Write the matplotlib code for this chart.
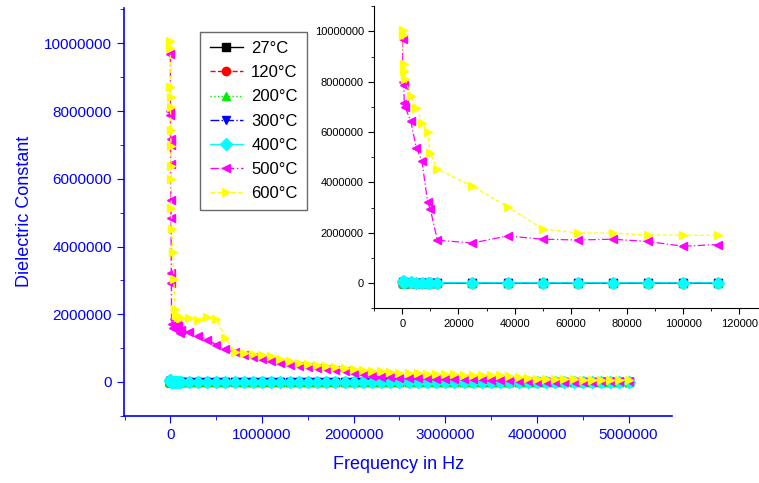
import numpy as np
import matplotlib
matplotlib.use('Agg')
import matplotlib.pyplot as plt
from matplotlib.ticker import MultipleLocator

plt.rcParams['font.family'] = ['Liberation Sans', 'DejaVu Sans']

# frequencies of the sweep (Hz)
freq_low = [100, 200, 500, 700, 1000, 3000, 5000, 7000, 9000, 10000, 12500,
            25000, 37500, 50000, 62500, 75000, 87500, 100000, 112500]
freq_high = np.arange(200000, 5000001, 100000)

labels = ['27°C', '120°C', '200°C', '300°C', '400°C', '500°C', '600°C']

# low temperatures, in thousands
eps_27_low = [1.9, 1.6, 1.4, 1.3, 1.2, 1.1, 1.0, 1.0, 0.9, 0.9, 0.9, 0.8, 0.8, 0.8, 0.8, 0.7, 0.7, 0.7, 0.7]
eps_27_high = [0.7, 0.7, 0.7, 0.7, 0.7, 0.7, 0.6, 0.6, 0.6, 0.6,
               0.6, 0.6, 0.6, 0.6, 0.6, 0.6, 0.6, 0.6, 0.6, 0.6,
               0.6, 0.6, 0.6, 0.6, 0.6, 0.6, 0.5, 0.5, 0.5, 0.5,
               0.5, 0.5, 0.5, 0.5, 0.5, 0.5, 0.5, 0.5, 0.5, 0.5,
               0.5, 0.5, 0.5, 0.5, 0.5, 0.5, 0.5, 0.5, 0.5]
eps_120_low = [4.2, 3.6, 3.0, 2.8, 2.6, 2.2, 2.0, 1.9, 1.8, 1.8, 1.7, 1.6, 1.5, 1.5, 1.4, 1.4, 1.4, 1.4, 1.3]
eps_120_high = [1.3, 1.3, 1.2, 1.2, 1.2, 1.2, 1.1, 1.1, 1.1, 1.1,
                1.1, 1.0, 1.0, 1.0, 1.0, 1.0, 1.0, 1.0, 1.0, 0.9,
                0.9, 0.9, 0.9, 0.9, 0.9, 0.9, 0.9, 0.9, 0.9, 0.9,
                0.9, 0.8, 0.8, 0.8, 0.8, 0.8, 0.8, 0.8, 0.8, 0.8,
                0.8, 0.8, 0.8, 0.8, 0.8, 0.8, 0.8, 0.8, 0.8]
eps_200_low = [9.5, 8.1, 6.6, 6.0, 5.5, 4.4, 3.9, 3.6, 3.4, 3.3, 3.1, 2.7, 2.5, 2.4, 2.3, 2.2, 2.2, 2.1, 2.1]
eps_200_high = [2.0, 1.9, 1.8, 1.8, 1.7, 1.7, 1.7, 1.6, 1.6, 1.6,
                1.6, 1.5, 1.5, 1.5, 1.5, 1.5, 1.5, 1.4, 1.4, 1.4,
                1.4, 1.4, 1.4, 1.4, 1.4, 1.4, 1.3, 1.3, 1.3, 1.3,
                1.3, 1.3, 1.3, 1.3, 1.3, 1.3, 1.3, 1.3, 1.2, 1.2,
                1.2, 1.2, 1.2, 1.2, 1.2, 1.2, 1.2, 1.2, 1.2]
eps_300_low = [38, 30, 22, 19, 17, 12, 10, 9.0, 8.3, 8.0, 7.4, 5.9, 5.2, 4.8, 4.5, 4.3, 4.1, 4.0, 3.9]
eps_300_high = [3.6, 3.3, 3.1, 3.0, 2.9, 2.8, 2.7, 2.6, 2.6, 2.5,
                2.5, 2.4, 2.4, 2.4, 2.3, 2.3, 2.3, 2.2, 2.2, 2.2,
                2.2, 2.1, 2.1, 2.1, 2.1, 2.1, 2.0, 2.0, 2.0, 2.0,
                2.0, 2.0, 1.9, 1.9, 1.9, 1.9, 1.9, 1.9, 1.9, 1.8,
                1.8, 1.8, 1.8, 1.8, 1.8, 1.8, 1.8, 1.7, 1.7]
eps_400_low = [60, 48, 36, 31, 27, 20, 17, 15, 14, 13, 12, 10, 9.5, 9.0, 8.8, 8.6, 8.4, 8.3, 8.1]
eps_400_high = [7.5, 6.9, 6.4, 6.0, 5.7, 5.5, 5.3, 5.1, 5.0, 4.9,
                4.8, 4.7, 4.6, 4.5, 4.4, 4.3, 4.3, 4.2, 4.2, 4.1,
                4.1, 4.0, 4.0, 3.9, 3.9, 3.9, 3.8, 3.8, 3.8, 3.7,
                3.7, 3.7, 3.6, 3.6, 3.6, 3.6, 3.5, 3.5, 3.5, 3.5,
                3.4, 3.4, 3.4, 3.4, 3.4, 3.3, 3.3, 3.3, 3.3]

# high temperatures, in millions
eps_500_low = [9.69, 8.00, 7.88, 7.17, 6.99, 6.44, 5.38, 4.85, 3.23, 2.93, 1.70,
               1.59, 1.87, 1.74, 1.71, 1.74, 1.65, 1.46, 1.53]
eps_500_high = [1.47, 1.36, 1.25, 1.10, 0.96, 0.88, 0.80, 0.73, 0.67,
                0.62, 0.56, 0.51, 0.47, 0.45, 0.41, 0.38, 0.35, 0.31, 0.28,
                0.24, 0.19, 0.15, 0.14, 0.13, 0.12, 0.11, 0.11, 0.10, 0.10,
                0.09, 0.09, 0.08, 0.08, 0.07, 0.07, 0.06, 0.04, 0.02, 0.01,
                0.01, 0.01, 0.01, 0.01, 0.01, 0.01, 0.02, 0.02, 0.02, 0.02]
eps_600_low = [10.07, 9.87, 8.71, 8.41, 8.11, 7.44, 6.97, 6.37, 5.99, 5.15, 4.52,
               3.85, 3.03, 2.15, 1.99, 1.98, 1.91, 1.90, 1.89]
eps_600_high = [1.90, 1.84, 1.93, 1.87, 1.30, 0.90, 0.87, 0.83, 0.79,
                0.76, 0.69, 0.61, 0.57, 0.53, 0.50, 0.47, 0.44, 0.40, 0.37,
                0.35, 0.33, 0.31, 0.29, 0.28, 0.27, 0.26, 0.25, 0.25, 0.24,
                0.23, 0.22, 0.21, 0.21, 0.20, 0.20, 0.19, 0.16, 0.12, 0.10,
                0.09, 0.09, 0.08, 0.08, 0.07, 0.07, 0.06, 0.06, 0.06, 0.05]

freq = np.concatenate([freq_low, freq_high])
series = [
    np.concatenate([eps_27_low, eps_27_high]) * 1e3,
    np.concatenate([eps_120_low, eps_120_high]) * 1e3,
    np.concatenate([eps_200_low, eps_200_high]) * 1e3,
    np.concatenate([eps_300_low, eps_300_high]) * 1e3,
    np.concatenate([eps_400_low, eps_400_high]) * 1e3,
    np.concatenate([eps_500_low, eps_500_high]) * 1e6,
    np.concatenate([eps_600_low, eps_600_high]) * 1e6,
]

colors = ['black', 'red', '#00ee00', 'blue', 'cyan', 'magenta', 'yellow']
markers = ['s', 'o', '^', 'v', 'D', '<', '>']
styles = ['-', '--', ':', '-.', '-', (0, (6, 2, 1, 2)), (0, (3, 2))]

fig = plt.figure(figsize=(7.59, 4.83), dpi=100)

# main plot
ax = fig.add_axes([0.163, 0.139, 0.723, 0.845])
for y, c, m, ls, lab in zip(series, colors, markers, styles, labels):
    ax.plot(freq, y, color=c, marker=m, ms=6, lw=1, ls=ls, label=lab)

ax.set_xlim(-510000, 5480000)
ax.set_ylim(-1000000, 11050000)
ax.xaxis.set_major_locator(MultipleLocator(1000000))
ax.xaxis.set_minor_locator(MultipleLocator(500000))
ax.yaxis.set_major_locator(MultipleLocator(2000000))
ax.yaxis.set_minor_locator(MultipleLocator(1000000))
ax.ticklabel_format(style='plain', useOffset=False)
for s in ['top', 'right']:
    ax.spines[s].set_visible(False)
for s in ['left', 'bottom']:
    ax.spines[s].set_color('blue')
    ax.spines[s].set_linewidth(1.2)
ax.tick_params(which='both', direction='out', colors='blue', labelcolor='blue', labelsize=11)
ax.tick_params(which='major', length=5)
ax.tick_params(which='minor', length=3)
ax.set_xlabel('Frequency in Hz', color='blue', fontsize=13, labelpad=10)
ax.set_ylabel('Dielectric Constant', color='blue', fontsize=13, labelpad=8)

leg = ax.legend(loc='upper left', bbox_to_anchor=(0.264, 0.934), bbox_transform=fig.transFigure,
                borderaxespad=0, fontsize=12, frameon=True, fancybox=False, edgecolor='#444444',
                handlelength=2.0, handletextpad=0.5, borderpad=0.55, labelspacing=0.55,
                markerscale=1.0)
leg.get_frame().set_linewidth(1.0)

# inset, low frequency part
axin = fig.add_axes([0.493, 0.362, 0.507, 0.625])
mask = freq <= 115000
for y, c, m, ls in zip(series, colors, markers, styles):
    axin.plot(freq[mask], y[mask], color=c, marker=m, ms=6, lw=0.9, ls=ls)

axin.set_xlim(-10000, 127000)
axin.set_ylim(-1000000, 11000000)
axin.xaxis.set_major_locator(MultipleLocator(20000))
axin.xaxis.set_minor_locator(MultipleLocator(10000))
axin.yaxis.set_major_locator(MultipleLocator(2000000))
axin.yaxis.set_minor_locator(MultipleLocator(1000000))
axin.ticklabel_format(style='plain', useOffset=False)
for s in ['top', 'right']:
    axin.spines[s].set_visible(False)
axin.tick_params(which='both', direction='out', labelsize=8)
axin.tick_params(which='major', length=4)
axin.tick_params(which='minor', length=2.5)

fig.savefig('out.png', dpi=100)
